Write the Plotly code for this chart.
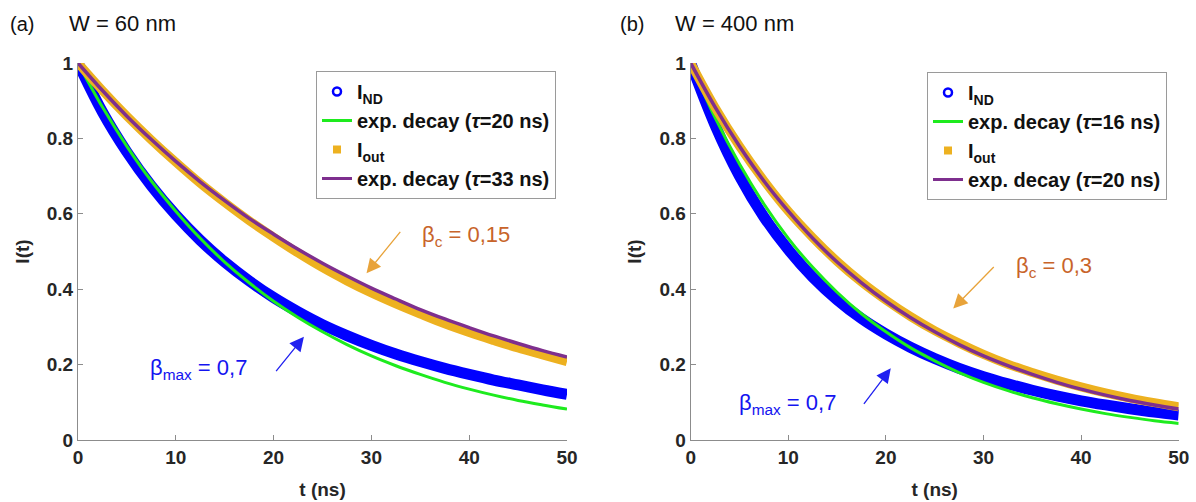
import plotly.graph_objects as go

# ---------------- data ----------------
t = [0, 2.5, 5, 7.5, 10, 12.5, 15, 17.5, 20, 22.5, 25, 27.5, 30, 32.5, 35,
     37.5, 40, 42.5, 45, 47.5, 50]

# panel (a): W = 60 nm
a_ind = [1.000, 0.870, 0.764, 0.674, 0.597, 0.530, 0.472, 0.422, 0.378, 0.340,
         0.306, 0.277, 0.251, 0.228, 0.208, 0.190, 0.174, 0.159, 0.146, 0.133, 0.121]
a_exp_nd = [1.000, 0.883, 0.779, 0.687, 0.607, 0.535, 0.472, 0.417, 0.368, 0.325,
            0.287, 0.253, 0.223, 0.197, 0.174, 0.153, 0.135, 0.119, 0.105, 0.093, 0.082]
a_out = [1.000, 0.927, 0.859, 0.796, 0.737, 0.681, 0.630, 0.582, 0.538, 0.496,
         0.457, 0.422, 0.390, 0.361, 0.334, 0.308, 0.285, 0.264, 0.244, 0.226, 0.208]
a_exp_out = [1.000, 0.927, 0.859, 0.797, 0.739, 0.685, 0.635, 0.588, 0.546, 0.506,
             0.469, 0.435, 0.403, 0.374, 0.346, 0.321, 0.298, 0.276, 0.256, 0.237, 0.220]

# panel (b): W = 400 nm
b_ind = [1.000, 0.835, 0.700, 0.592, 0.505, 0.432, 0.372, 0.322, 0.281, 0.246,
         0.216, 0.190, 0.168, 0.149, 0.132, 0.117, 0.104, 0.093, 0.083, 0.074, 0.066]
b_exp_nd = [1.000, 0.855, 0.732, 0.626, 0.535, 0.458, 0.392, 0.335, 0.287, 0.245,
            0.210, 0.179, 0.153, 0.131, 0.112, 0.096, 0.082, 0.070, 0.060, 0.051, 0.044]
b_out = [1.000, 0.882, 0.779, 0.688, 0.607, 0.537, 0.474, 0.419, 0.371, 0.328,
         0.290, 0.257, 0.227, 0.201, 0.179, 0.159, 0.141, 0.125, 0.111, 0.099, 0.088]
b_exp_out = [1.000, 0.883, 0.779, 0.687, 0.607, 0.535, 0.472, 0.417, 0.368, 0.325,
             0.287, 0.253, 0.223, 0.197, 0.174, 0.153, 0.135, 0.119, 0.105, 0.093, 0.082]

x_ticks = [0, 10, 20, 30, 40, 50]
y_ticks = [0, 0.2, 0.4, 0.6, 0.8, 1]
y_ticktext = ["0", "0.2", "0.4", "0.6", "0.8", "1"]

labels_a = ["I<sub>ND</sub>", "exp. decay (<i>τ</i>=20 ns)", "I<sub>out</sub>",
            "exp. decay (<i>τ</i>=33 ns)"]
labels_b = ["I<sub>ND</sub>", "exp. decay (<i>τ</i>=16 ns)", "I<sub>out</sub>",
            "exp. decay (<i>τ</i>=20 ns)"]

# ---------------- style ----------------
W, H = 1196, 502
BLUE = "#0000FF"
GREEN = "#1EEB1E"
ORANGE = "#EDB120"
PURPLE = "#7E2F8E"
AXC = "#8C8C8C"
TXT = "#262626"


def px(x):
    return x / W


def py(y):
    return 1 - y / H


fig = go.Figure()


def add_panel(xa, ya, leg, ind, e_nd, out, e_out, labels):
    fig.add_trace(go.Scatter(x=t, y=ind, mode="lines", line=dict(color=BLUE, width=11, shape="spline"),
                             xaxis=xa, yaxis=ya, showlegend=False, hoverinfo="skip"))
    fig.add_trace(go.Scatter(x=t, y=e_nd, mode="lines", line=dict(color=GREEN, width=3, shape="spline"),
                             xaxis=xa, yaxis=ya, showlegend=False, hoverinfo="skip"))
    fig.add_trace(go.Scatter(x=t, y=out, mode="lines", line=dict(color=ORANGE, width=9, shape="spline"),
                             xaxis=xa, yaxis=ya, showlegend=False, hoverinfo="skip"))
    fig.add_trace(go.Scatter(x=t, y=e_out, mode="lines", line=dict(color=PURPLE, width=3.5, shape="spline"),
                             xaxis=xa, yaxis=ya, showlegend=False, hoverinfo="skip"))
    fig.add_trace(go.Scatter(x=[None], y=[None], mode="markers", name=labels[0],
                             marker=dict(symbol="circle-open", size=8, color=BLUE, line=dict(width=2.5, color=BLUE)),
                             xaxis=xa, yaxis=ya, legend=leg))
    fig.add_trace(go.Scatter(x=[None], y=[None], mode="lines", name=labels[1],
                             line=dict(color=GREEN, width=3), xaxis=xa, yaxis=ya, legend=leg))
    fig.add_trace(go.Scatter(x=[None], y=[None], mode="markers", name=labels[2],
                             marker=dict(symbol="square", size=8, color=ORANGE),
                             xaxis=xa, yaxis=ya, legend=leg))
    fig.add_trace(go.Scatter(x=[None], y=[None], mode="lines", name=labels[3],
                             line=dict(color=PURPLE, width=3), xaxis=xa, yaxis=ya, legend=leg))


add_panel("x", "y", "legend", a_ind, a_exp_nd, a_out, a_exp_out, labels_a)
add_panel("x2", "y2", "legend2", b_ind, b_exp_nd, b_out, b_exp_out, labels_b)

tickfont = dict(family="Liberation Sans, Arial", size=19, color=TXT, weight="bold")
titlefont = dict(family="Liberation Sans, Arial", size=19, color=TXT, weight="bold")

xcommon = dict(range=[0, 50], tickvals=x_ticks, ticks="inside", ticklen=5, tickcolor=AXC,
               showline=True, linecolor=AXC, linewidth=1.2, showgrid=False, zeroline=False,
               tickfont=tickfont, title=dict(text="t (ns)", font=titlefont, standoff=15),
               automargin=False, fixedrange=True)
ycommon = dict(range=[0, 1], tickvals=y_ticks, ticktext=y_ticktext, ticks="inside", ticklen=5,
               tickcolor=AXC, showline=True, linecolor=AXC, linewidth=1.2, showgrid=False,
               zeroline=False, tickfont=tickfont, title=dict(text="I(t)", font=titlefont, standoff=12),
               automargin=False, fixedrange=True)

legcommon = dict(font=dict(family="Liberation Sans, Arial", size=20, color="#111111", weight="bold"),
                 bgcolor="white", bordercolor="#9A9A9A", borderwidth=1,
                 xanchor="left", yanchor="top", tracegroupgap=0, itemwidth=30)

fig.update_layout(
    width=W, height=H,
    margin=dict(l=0, r=0, t=0, b=0),
    paper_bgcolor="white", plot_bgcolor="white",
    xaxis=dict(domain=[px(78), px(567)], anchor="y", **xcommon),
    yaxis=dict(domain=[py(440), py(63)], anchor="x", **ycommon),
    xaxis2=dict(domain=[px(690.7), px(1178.7)], anchor="y2", **xcommon),
    yaxis2=dict(domain=[py(440), py(63)], anchor="x2", **ycommon),
    legend=dict(x=px(316), y=py(71), **legcommon),
    legend2=dict(x=px(927), y=py(72), **legcommon),
)

cal = "Liberation Sans, Arial"
ORTXT = "#C8642A"
BLTXT = "#1414F0"

for x0, txt in [(8, "(a)"), (618, "(b)")]:
    fig.add_annotation(x=px(x0), y=py(24), xref="paper", yref="paper", text=txt, showarrow=False,
                       xanchor="left", yanchor="middle", font=dict(family=cal, size=20, color="#111111"))
for x0, txt in [(67, "W = 60 nm"), (673, "W = 400 nm")]:
    fig.add_annotation(x=px(x0), y=py(24), xref="paper", yref="paper", text=txt, showarrow=False,
                       xanchor="left", yanchor="middle", font=dict(family=cal, size=22, color="#111111"))

beta_labels = [
    (420, 236, "β<sub>c</sub> = 0,15", ORTXT),
    (148, 369, "β<sub>max</sub> = 0,7", BLTXT),
    (1014, 267, "β<sub>c</sub> = 0,3", ORTXT),
    (737, 404, "β<sub>max</sub> = 0,7", BLTXT),
]
for x0, y0, txt, col in beta_labels:
    fig.add_annotation(x=px(x0), y=py(y0), xref="paper", yref="paper", text=txt, showarrow=False,
                       xanchor="left", yanchor="middle", font=dict(family=cal, size=22, color=col))

arrows = [
    ("x", "y", 29.5, 0.442, 35, -43, "#E8A33A"),
    ("x", "y", 23.1, 0.274, -29, 36, "#2020F0"),
    ("x2", "y2", 26.9, 0.349, 42, -43, "#E8A33A"),
    ("x2", "y2", 20.5, 0.190, -28, 37, "#2020F0"),
]
for xr, yr, xt, yt, ax, ay, col in arrows:
    fig.add_annotation(x=xt, y=yt, xref=xr, yref=yr, ax=ax, ay=ay, axref="pixel", ayref="pixel",
                       text="", showarrow=True, arrowhead=2, arrowsize=2.2, arrowwidth=1.3,
                       arrowcolor=col)

fig.write_html("out.html", config={"displayModeBar": False},
               post_script="document.body.style.margin='0';")
